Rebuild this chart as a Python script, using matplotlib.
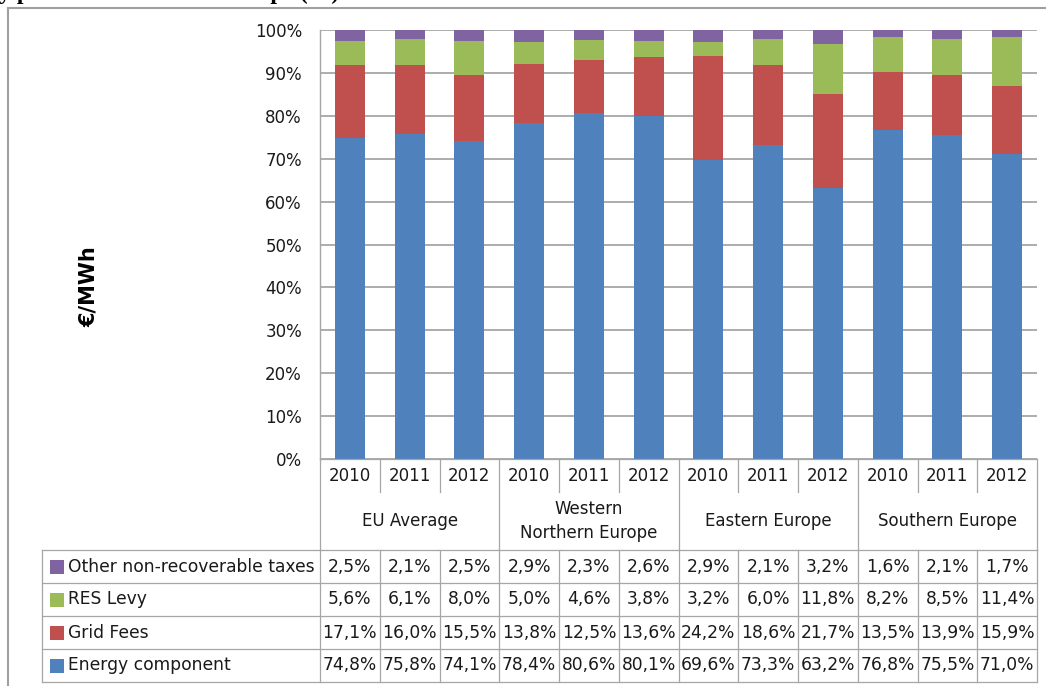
import numpy as np
import matplotlib
matplotlib.use("Agg")
import matplotlib.pyplot as plt
from matplotlib.patches import Rectangle

# ---- data ----
regions = ["EU Average", "Western\nNorthern Europe", "Eastern Europe", "Southern Europe"]
years = ["2010", "2011", "2012"]
series_names = ["Other non-recoverable taxes", "RES Levy", "Grid Fees", "Energy component"]
energy = [74.8, 75.8, 74.1, 78.4, 80.6, 80.1, 69.6, 73.3, 63.2, 76.8, 75.5, 71.0]
grid_fees = [17.1, 16.0, 15.5, 13.8, 12.5, 13.6, 24.2, 18.6, 21.7, 13.5, 13.9, 15.9]
res_levy = [5.6, 6.1, 8.0, 5.0, 4.6, 3.8, 3.2, 6.0, 11.8, 8.2, 8.5, 11.4]
other_taxes = [2.5, 2.1, 2.5, 2.9, 2.3, 2.6, 2.9, 2.1, 3.2, 1.6, 2.1, 1.7]

colors = {
    "Energy component": "#4F81BD",
    "Grid Fees": "#C0504D",
    "RES Levy": "#9BBB59",
    "Other non-recoverable taxes": "#8064A2",
}
values = {
    "Energy component": energy,
    "Grid Fees": grid_fees,
    "RES Levy": res_levy,
    "Other non-recoverable taxes": other_taxes,
}

W, H = 1046, 686
DPI = 100
fig = plt.figure(figsize=(W / DPI, H / DPI), dpi=DPI)
fig.patch.set_facecolor("white")

LINE = "#A6A6A6"
TXT = "#1a1a1a"
FONT = "DejaVu Sans"

# plot area in pixel coordinates
x0, x1 = 320, 1037
y_top, y_bot = 30, 459
ax = fig.add_axes([x0 / W, 1 - y_bot / H, (x1 - x0) / W, (y_bot - y_top) / H])

n = len(energy)
x = np.arange(n)
stack_order = ["Energy component", "Grid Fees", "RES Levy", "Other non-recoverable taxes"]
totals = np.sum([values[k] for k in stack_order], axis=0)
bottom = np.zeros(n)
for name in stack_order:
    share = np.array(values[name]) / totals * 100
    ax.bar(x, share, width=0.5, bottom=bottom, color=colors[name], zorder=3, linewidth=0)
    bottom += share

ax.set_xlim(-0.5, n - 0.5)
ax.set_ylim(0, 100)
ax.set_yticks(np.arange(0, 101, 10))
ax.set_yticklabels([f"{v}%" for v in range(0, 101, 10)], fontsize=12, color=TXT, family=FONT)
ax.tick_params(axis="y", length=0, pad=13)
ax.set_xticks([])
ax.grid(axis="y", color=LINE, linewidth=1.3, zorder=0)
for s in ["top", "right", "bottom"]:
    ax.spines[s].set_visible(False)
ax.spines["left"].set_color(LINE)
ax.spines["left"].set_linewidth(1.0)

# overlay in pixel coordinates for table, frame and labels
ov = fig.add_axes([0, 0, 1, 1])
ov.set_xlim(0, W)
ov.set_ylim(H, 0)
ov.axis("off")
ov.patch.set_visible(False)

lw = 0.9
col_w = (x1 - x0) / n

# outer frame
ov.plot([8, 8], [8, H + 5], color="#A0A0A0", lw=1.5)
ov.plot([8, W + 5], [8, 8], color="#A0A0A0", lw=1.5)

# category axis: years and region groups
y_year_bot = 492
y_grp_bot = 550
ov.plot([x0, x1], [y_bot, y_bot], color=LINE, lw=lw)
for k in range(n + 1):
    xx = x0 + k * col_w
    if k % 3 == 0:
        ov.plot([xx, xx], [y_bot, y_grp_bot], color=LINE, lw=lw)
    else:
        ov.plot([xx, xx], [y_bot, y_year_bot], color=LINE, lw=lw)
for k in range(n):
    ov.text(x0 + (k + 0.5) * col_w, 476, years[k % 3], ha="center", va="center",
            fontsize=12, color=TXT, family=FONT)
for g, name in enumerate(regions):
    ov.text(x0 + (3 * g + 1.5) * col_w, 521, name, ha="center", va="center",
            fontsize=12, color=TXT, family=FONT, linespacing=1.5)

# data table
tbl_left = 42
row_h = 33
rows_top = y_grp_bot
for r in range(len(series_names) + 1):
    yy = rows_top + r * row_h
    ov.plot([tbl_left, x1], [yy, yy], color=LINE, lw=lw)
y_end = rows_top + len(series_names) * row_h
ov.plot([tbl_left, tbl_left], [rows_top, y_end], color=LINE, lw=lw)
for k in range(n + 1):
    xx = x0 + k * col_w
    ov.plot([xx, xx], [rows_top, y_end], color=LINE, lw=lw)

for r, name in enumerate(series_names):
    yc = rows_top + (r + 0.5) * row_h
    ov.add_patch(Rectangle((50, yc - 7), 14, 14, facecolor=colors[name], edgecolor="none"))
    ov.text(68, yc, name, ha="left", va="center", fontsize=12.3, color=TXT, family=FONT)
    for k, v in enumerate(values[name]):
        label = f"{v:.1f}".replace(".", ",") + "%"
        ov.text(x0 + (k + 0.5) * col_w, yc, label, ha="center", va="center",
                fontsize=12.3, color=TXT, family=FONT)

# y-axis title
ov.text(89, 287, "€/MWh", rotation=90, ha="center", va="center",
        fontsize=15, fontweight="bold", color="black", family=FONT)

# heading above the chart frame (only its lower edge falls on the page)
ov.text(339, -1.5, "Industrial electricity price breakdown in Europe (%)", ha="right",
        va="baseline", fontsize=17, fontweight="bold", family="Liberation Serif", color="black")

fig.savefig("out.png", dpi=DPI)
